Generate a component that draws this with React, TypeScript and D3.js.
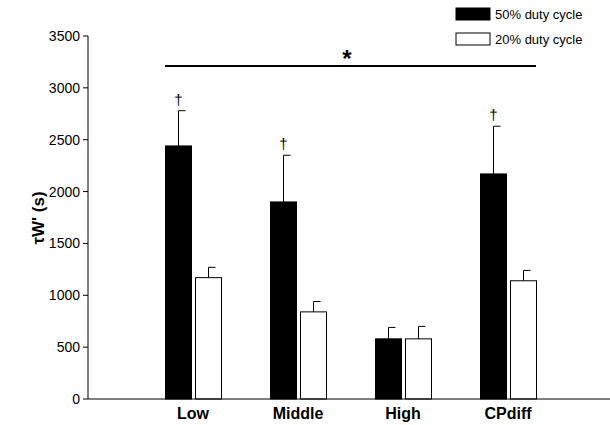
import React from "react";
import * as d3 from "d3";

const categories = ["Low", "Middle", "High", "CPdiff"];
const duty50 = [2440, 1900, 580, 2170];
const duty50Err = [340, 450, 110, 460];
const duty20 = [1170, 840, 580, 1140];
const duty20Err = [100, 100, 120, 100];
const yTicks = [0, 500, 1000, 1500, 2000, 2500, 3000, 3500];
const dagger = [true, true, false, true];

export default function App() {
  const W = 610, H = 425;
  const y = d3.scaleLinear().domain([0, 3500]).range([399, 36]);
  const x = d3.scaleLinear().domain([0, 5]).range([88, 613]);
  const bw = 26;
  const font = "Arial, Liberation Sans, sans-serif";
  const bars = [
    { vals: duty50, errs: duty50Err, fill: "#000", off: -bw - 1.5 },
    { vals: duty20, errs: duty20Err, fill: "#fff", off: 2.5 },
  ];
  return (
    <svg width={W} height={H} style={{ position: "absolute", left: 0, top: 0 }} fontFamily={font}>
      {bars.map((s, si) =>
        categories.map((c, i) => {
          const cx = x(i + 1) + s.off;
          const top = y(s.vals[i]);
          const et = y(s.vals[i] + s.errs[i]);
          return (
            <g key={si + c}>
              <line x1={cx + bw / 2} x2={cx + bw / 2} y1={top} y2={et} stroke="#000" strokeWidth={1} />
              <line x1={cx + bw / 2} x2={cx + bw / 2 + 7} y1={et} y2={et} stroke="#000" strokeWidth={1} />
              <rect x={cx} y={top} width={bw} height={y(0) - top} fill={s.fill} stroke="#000" strokeWidth={1} />
            </g>
          );
        })
      )}
      {categories.map((c, i) =>
        dagger[i] ? (
          <text key={"d" + c} x={x(i + 1) - bw / 2 - 1.5} y={y(duty50[i] + duty50Err[i]) - 6} textAnchor="middle" fontSize={15} fill="#000" fontFamily="Liberation Sans, sans-serif">†</text>
        ) : null
      )}
      <line x1={88} x2={88} y1={36} y2={399} stroke="#000" />
      <line x1={88} x2={610} y1={399} y2={399} stroke="#000" />
      {yTicks.map((t) => (
        <g key={t}>
          <line x1={83} x2={88} y1={y(t)} y2={y(t)} stroke="#000" />
          <text x={80} y={y(t) + 5} textAnchor="end" fontSize={14}>{t}</text>
        </g>
      ))}
      {categories.map((c, i) => (
        <text key={c} x={x(i + 1)} y={419} textAnchor="middle" fontSize={16} fontWeight="bold">{c}</text>
      ))}
      <text transform="translate(44,218) rotate(-90)" textAnchor="middle" fontSize={17} fontWeight="bold">τW' (s)</text>
      <line x1={165} x2={536} y1={66} y2={66} stroke="#000" strokeWidth={2} />
      <text x={347} y={67} textAnchor="middle" fontSize={24} fontWeight="bold">*</text>
      <rect x={456} y={8} width={34} height={12} fill="#000" stroke="#000" />
      <text x={495} y={19} fontSize={13}>50% duty cycle</text>
      <rect x={456} y={33} width={34} height={12} fill="#fff" stroke="#000" />
      <text x={495} y={44} fontSize={13}>20% duty cycle</text>
    </svg>
  );
}
